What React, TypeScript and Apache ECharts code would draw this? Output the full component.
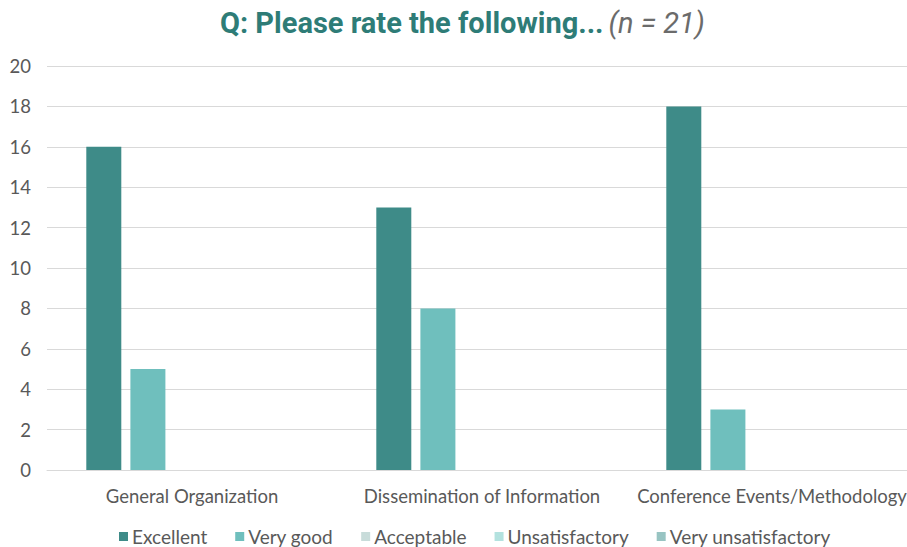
import React, { useEffect, useRef } from "react";
import * as echarts from "echarts";

const categories = ["General Organization", "Dissemination of Information", "Conference Events/Methodology"];
const seriesNames = ["Excellent", "Very good", "Acceptable", "Unsatisfactory", "Very unsatisfactory"];
const excellent = [16, 13, 18];
const veryGood = [5, 8, 3];
const acceptable = [0, 0, 0];
const unsatisfactory = [0, 0, 0];
const veryUnsatisfactory = [0, 0, 0];
const seriesColors = ["#3e8b88", "#6fbfbd", "#c8dcda", "#b3e2df", "#98c4c2"];

export default function App() {
  const ref = useRef<HTMLDivElement>(null);
  useEffect(() => {
    document.body.style.margin = "0";
    const chart = echarts.init(ref.current!, null, { renderer: "svg" });
    const values = [excellent, veryGood, acceptable, unsatisfactory, veryUnsatisfactory];
    chart.setOption({
      animation: false,
      title: {
        text: "{a|Q: Please rate the following...} {b|(n = 21)}",
        left: 215,
        top: 3,
        textStyle: {
          rich: {
            a: { fontFamily: "Roboto", fontWeight: "bold", fontSize: 29, color: "#2e7c77" },
            b: { fontFamily: "Roboto", fontWeight: "normal", fontStyle: "italic", fontSize: 29, color: "#6b6b6b" },
          },
        },
      },
      legend: {
        bottom: -4,
        left: 114,
        itemWidth: 9,
        itemHeight: 9,
        itemGap: 28,
        icon: "rect",
        textStyle: { fontFamily: "Lato", fontSize: 19, color: "#595959", padding: [0, 0, 0, -1] },
        data: seriesNames,
      },
      grid: { left: 47, width: 870, top: 66, bottom: 77, containLabel: false, outerBoundsMode: "none" },
      xAxis: {
        type: "category",
        data: categories,
        axisTick: { show: false },
        axisLine: { lineStyle: { color: "#d9d9d9", width: 1 } },
        axisLabel: { fontFamily: "Lato", fontSize: 18.5, color: "#595959", margin: 16, interval: 0 },
      },
      yAxis: {
        type: "value",
        min: 0,
        max: 20,
        interval: 2,
        axisLine: { show: false },
        axisTick: { show: false },
        splitLine: { lineStyle: { color: "#d9d9d9", width: 1 } },
        axisLabel: { fontFamily: "Lato", fontSize: 18.5, color: "#595959", margin: 16 },
      },
      series: seriesNames.map((name, i) => ({
        name,
        type: "bar",
        data: values[i],
        barWidth: 35,
        barGap: "26%",
        itemStyle: { color: seriesColors[i] },
      })),
    });
    return () => chart.dispose();
  }, []);
  return <div ref={ref} style={{ width: 907, height: 547 }} />;
}
